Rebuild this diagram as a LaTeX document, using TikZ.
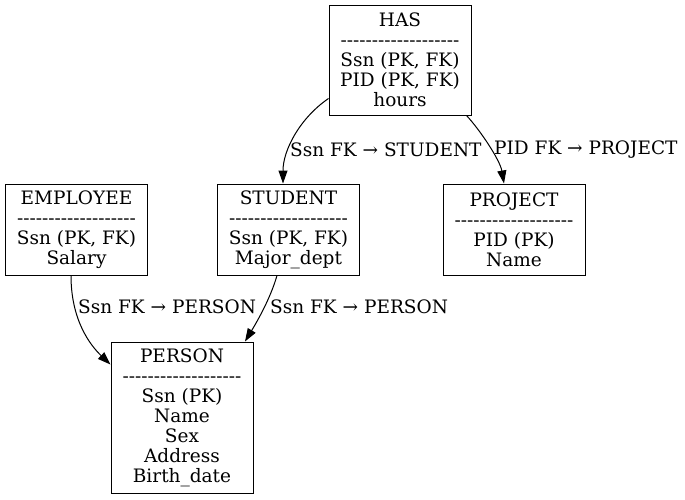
\documentclass[tikz,border=0pt]{standalone}
\usepackage{fontspec}
\setmainfont{DejaVu Serif}[Ligatures=TeXOff]
\usetikzlibrary{arrows.meta}
\begin{document}
\begin{tikzpicture}[x=1pt,y=-1pt,
  entity/.style={draw,line width=1pt,rectangle,inner sep=0pt,minimum width=142pt,align=center,
    font=\fontsize{18.5}{20}\selectfont},
  elabel/.style={anchor=west,inner sep=0pt,font=\fontsize{18.5}{20}\selectfont},
  fk/.style={line width=1pt,-{Triangle[length=13pt,width=9pt]}}]
\useasboundingbox (0,0) rectangle (685,499);
\node[entity,minimum height=110pt] (has) at (400,60) {HAS\\-------------------\\Ssn (PK, FK)\\PID (PK, FK)\\hours};
\node[entity,minimum height=91pt] (emp) at (76.5,229.5) {EMPLOYEE\\-------------------\\Ssn (PK, FK)\\Salary};
\node[entity,minimum height=91pt] (stu) at (288.5,229.5) {STUDENT\\-------------------\\Ssn (PK, FK)\\Major\_dept};
\node[entity,minimum height=91pt] (proj) at (514,229.5) {PROJECT\\-------------------\\PID (PK)\\Name};
\node[entity,minimum height=151pt] (per) at (182,417.5) {PERSON\\-------------------\\Ssn (PK)\\Name\\Sex\\Address\\Birth\_date};
\draw[fk] ([yshift=17pt]has.south west) .. controls (300,118) and (283,150) .. ([xshift=-5.5pt]stu.north);
\draw[fk] ([xshift=-5pt]has.south east) .. controls (480,130) and (500,160) .. ([xshift=-10pt]proj.north);
\draw[fk] ([xshift=-5.5pt]emp.south) .. controls (71,320) and (90,345) .. ([yshift=-23pt]per.north west);
\draw[fk] ([xshift=-11.5pt]stu.south) .. controls (270,300) and (255,325) .. ([xshift=63pt]per.north);
\node[elabel] (l1) at (290,150) {Ssn FK → STUDENT};
\node[elabel] (l2) at (494,150) {PID FK → PROJECT};
\node[elabel] (l3) at (78,307) {Ssn FK → PERSON};
\node[elabel] (l4) at (270,307) {Ssn FK → PERSON};
\end{tikzpicture}
\end{document}
